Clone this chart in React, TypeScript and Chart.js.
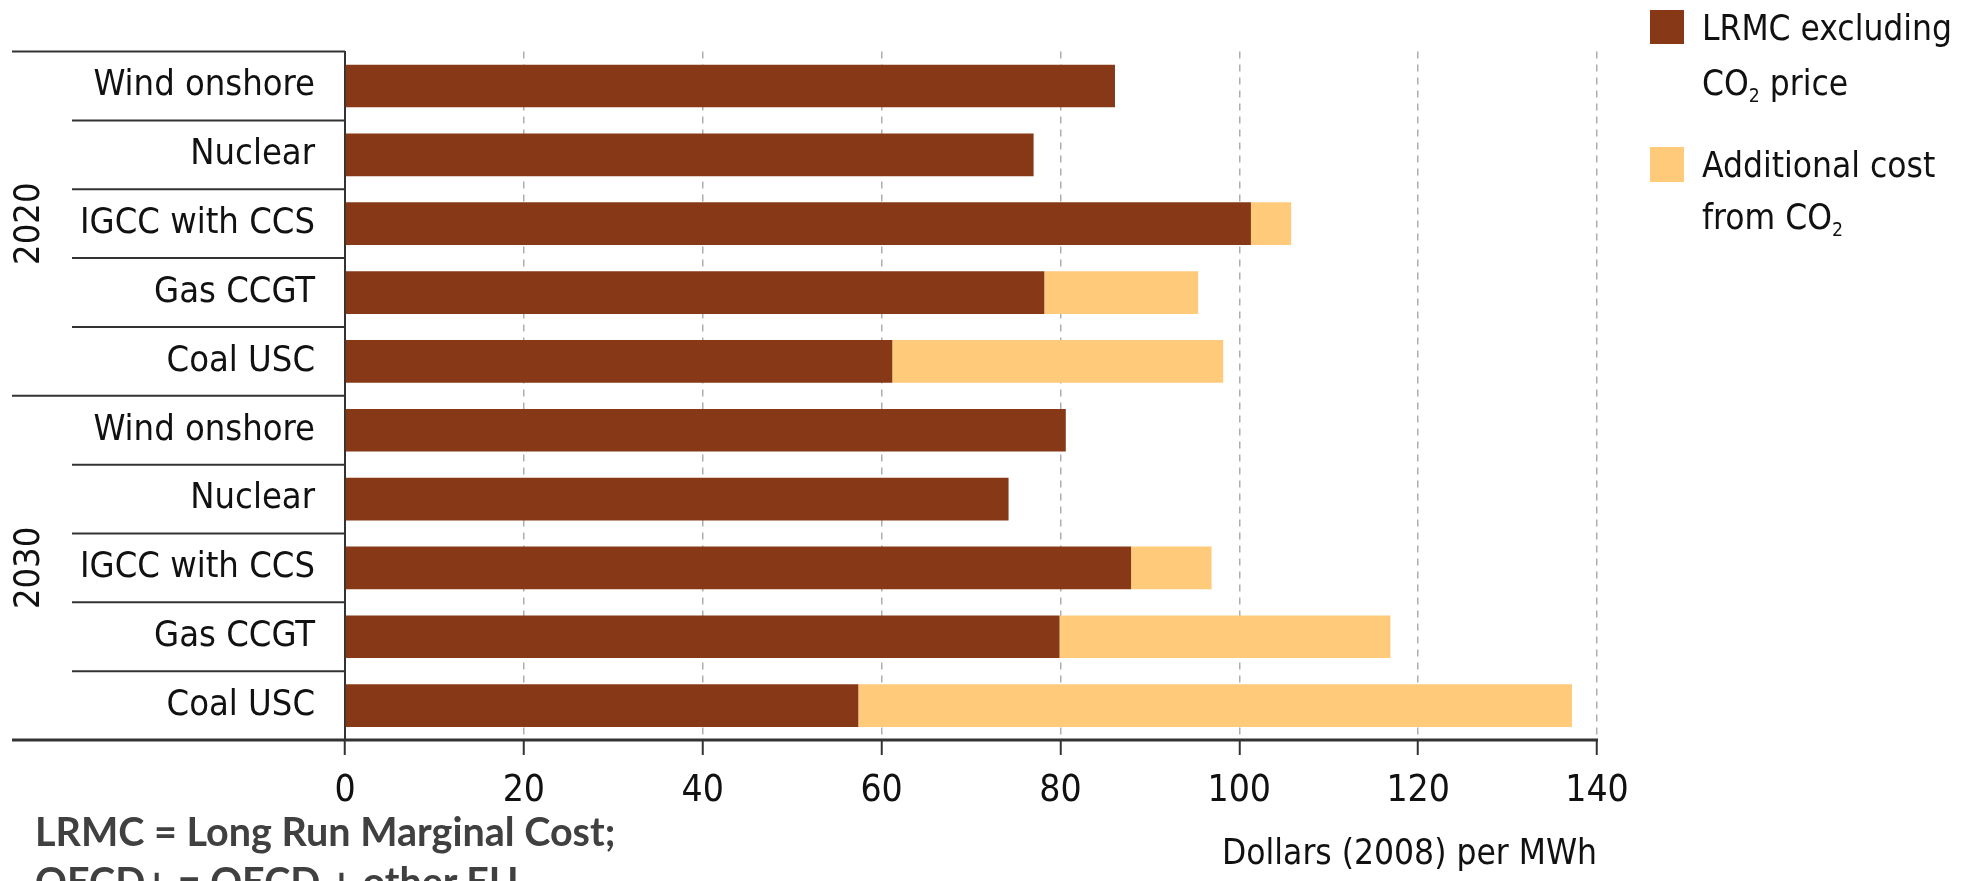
import React, { useEffect, useRef } from "react";
import { Chart, registerables } from "chart.js";

Chart.register(...registerables);

// ---------- data ----------
const categories = [
  "Wind onshore", "Nuclear", "IGCC with CCS", "Gas CCGT", "Coal USC",
  "Wind onshore", "Nuclear", "IGCC with CCS", "Gas CCGT", "Coal USC",
];
const groups = ["2020", "2030"];
const lrmcExclCO2 = [86.1, 77.0, 101.3, 78.2, 61.2, 80.6, 74.2, 87.9, 79.9, 57.4];
const additionalCO2 = [0, 0, 4.5, 17.2, 37.0, 0, 0, 9.0, 37.0, 79.8];
const xTicks = [0, 20, 40, 60, 80, 100, 120, 140];
const seriesNames = ["LRMC excluding CO2 price", "Additional cost from CO2"];
const xTitle = "Dollars (2008) per MWh";
const footnotes = ["LRMC = Long Run Marginal Cost;", "OECD+ = OECD + other EU"];

// ---------- styles ----------
const FONT = "'DejaVu Sans Condensed', 'Liberation Sans Narrow', sans-serif";
const BROWN = "#873817";
const ORANGE = "#FFCA7A";
const TEXT = "#111111";
const LINE = "#333333";

const decorPlugin = {
  id: "decor",
  afterDraw(chart: any) {
    const { ctx, chartArea, scales } = chart;
    const n = categories.length;
    const rowH = (chartArea.bottom - chartArea.top) / n;
    const groupSize = n / groups.length;
    const xEnd = scales.x.getPixelForValue(xTicks[xTicks.length - 1]);
    ctx.save();
    ctx.strokeStyle = LINE;
    for (let i = 0; i <= n; i++) {
      const yy = chartArea.top + i * rowH;
      const x1 = i % groupSize === 0 ? 12 : 72;
      const x2 = i === n ? xEnd + 1 : chartArea.left;
      ctx.lineWidth = i === n ? 3 : 2;
      ctx.beginPath();
      ctx.moveTo(x1, yy);
      ctx.lineTo(x2, yy);
      ctx.stroke();
    }
    ctx.fillStyle = TEXT;
    ctx.font = `36px ${FONT}`;
    ctx.textAlign = "center";
    ctx.textBaseline = "middle";
    groups.forEach((g, gi) => {
      const cy = chartArea.top + (gi * groupSize + groupSize / 2) * rowH;
      ctx.save();
      ctx.translate(30, cy);
      ctx.rotate(-Math.PI / 2);
      ctx.fillText(g, 0, 0);
      ctx.restore();
    });
    ctx.restore();
  },
};

function ChartCanvas() {
  const ref = useRef<HTMLCanvasElement | null>(null);
  useEffect(() => {
    if (!ref.current) return;
    const chart = new Chart(ref.current, {
      type: "bar",
      data: {
        labels: categories,
        datasets: [
          {
            label: seriesNames[0],
            data: lrmcExclCO2,
            backgroundColor: BROWN,
            borderWidth: 0,
            barPercentage: 0.62,
            categoryPercentage: 1,
          },
          {
            label: seriesNames[1],
            data: additionalCO2,
            backgroundColor: ORANGE,
            borderWidth: 0,
            barPercentage: 0.62,
            categoryPercentage: 1,
          },
        ],
      },
      options: {
        responsive: false,
        animation: false,
        indexAxis: "y",
        layout: { padding: { left: 0, top: 10, right: 373, bottom: 0 } },
        plugins: { legend: { display: false }, tooltip: { enabled: false } },
        scales: {
          x: {
            stacked: true,
            min: 0,
            max: 140,
            afterBuildTicks: (s: any) => {
              s.ticks = xTicks.map((v) => ({ value: v }));
            },
            afterFit: (s: any) => {
              s.height = 141;
            },
            grid: {
              color: (c: any) => (c.tick && c.tick.value === 0 ? "rgba(0,0,0,0)" : "#aeaeae"),
              lineWidth: 1.5,
              drawTicks: true,
              tickLength: 15,
              tickColor: LINE,
              tickWidth: 2,
            },
            border: { display: false, dash: [7, 6] },
            ticks: {
              font: { family: FONT, size: 37 },
              color: TEXT,
              padding: 14,
              maxRotation: 0,
              autoSkip: false,
            },
            title: {
              display: true,
              text: xTitle,
              align: "end",
              color: TEXT,
              font: { family: FONT, size: 35 },
              padding: { top: 0, bottom: 5 },
            },
          },
          y: {
            stacked: true,
            afterFit: (s: any) => {
              s.width = 345;
            },
            grid: { display: false, drawTicks: false },
            border: { display: true, color: LINE, width: 2 },
            ticks: {
              font: { family: FONT, size: 36 },
              color: TEXT,
              padding: 30,
              autoSkip: false,
            },
          },
        },
      },
      plugins: [decorPlugin],
    } as any);
    return () => chart.destroy();
  }, []);
  return <canvas ref={ref} width={1970} height={881} style={{ display: "block", width: 1970, height: 881 }} />;
}

const sub: React.CSSProperties = { fontSize: "0.55em", verticalAlign: "-0.35em", lineHeight: 0 };

function LegendLine({ top, children }: { top: number; children: React.ReactNode }) {
  return (
    <div
      style={{
        position: "absolute",
        left: 1702,
        top,
        fontFamily: FONT,
        fontSize: 35,
        lineHeight: "35px",
        color: TEXT,
        whiteSpace: "nowrap",
      }}
    >
      {children}
    </div>
  );
}

export default function App() {
  return (
    <div
      style={{
        position: "absolute",
        left: 0,
        top: 0,
        width: 1970,
        height: 881,
        overflow: "hidden",
        background: "#ffffff",
      }}
    >
      <ChartCanvas />
      <div style={{ position: "absolute", left: 1650, top: 10, width: 34, height: 34, background: BROWN }} />
      <LegendLine top={11}>LRMC excluding</LegendLine>
      <LegendLine top={66}>
        CO<span style={sub}>2</span> price
      </LegendLine>
      <div style={{ position: "absolute", left: 1650, top: 147, width: 34, height: 35, background: ORANGE }} />
      <LegendLine top={148}>Additional cost</LegendLine>
      <LegendLine top={200}>
        from CO<span style={sub}>2</span>
      </LegendLine>
      {footnotes.map((t, i) => (
        <div
          key={i}
          style={{
            position: "absolute",
            left: 35,
            top: 806 + i * 50,
            fontFamily: "Lato, 'Open Sans', sans-serif",
            fontWeight: 700,
            fontSize: 39.5,
            lineHeight: "50px",
            color: "#404040",
            whiteSpace: "nowrap",
          }}
        >
          {t}
        </div>
      ))}
    </div>
  );
}
